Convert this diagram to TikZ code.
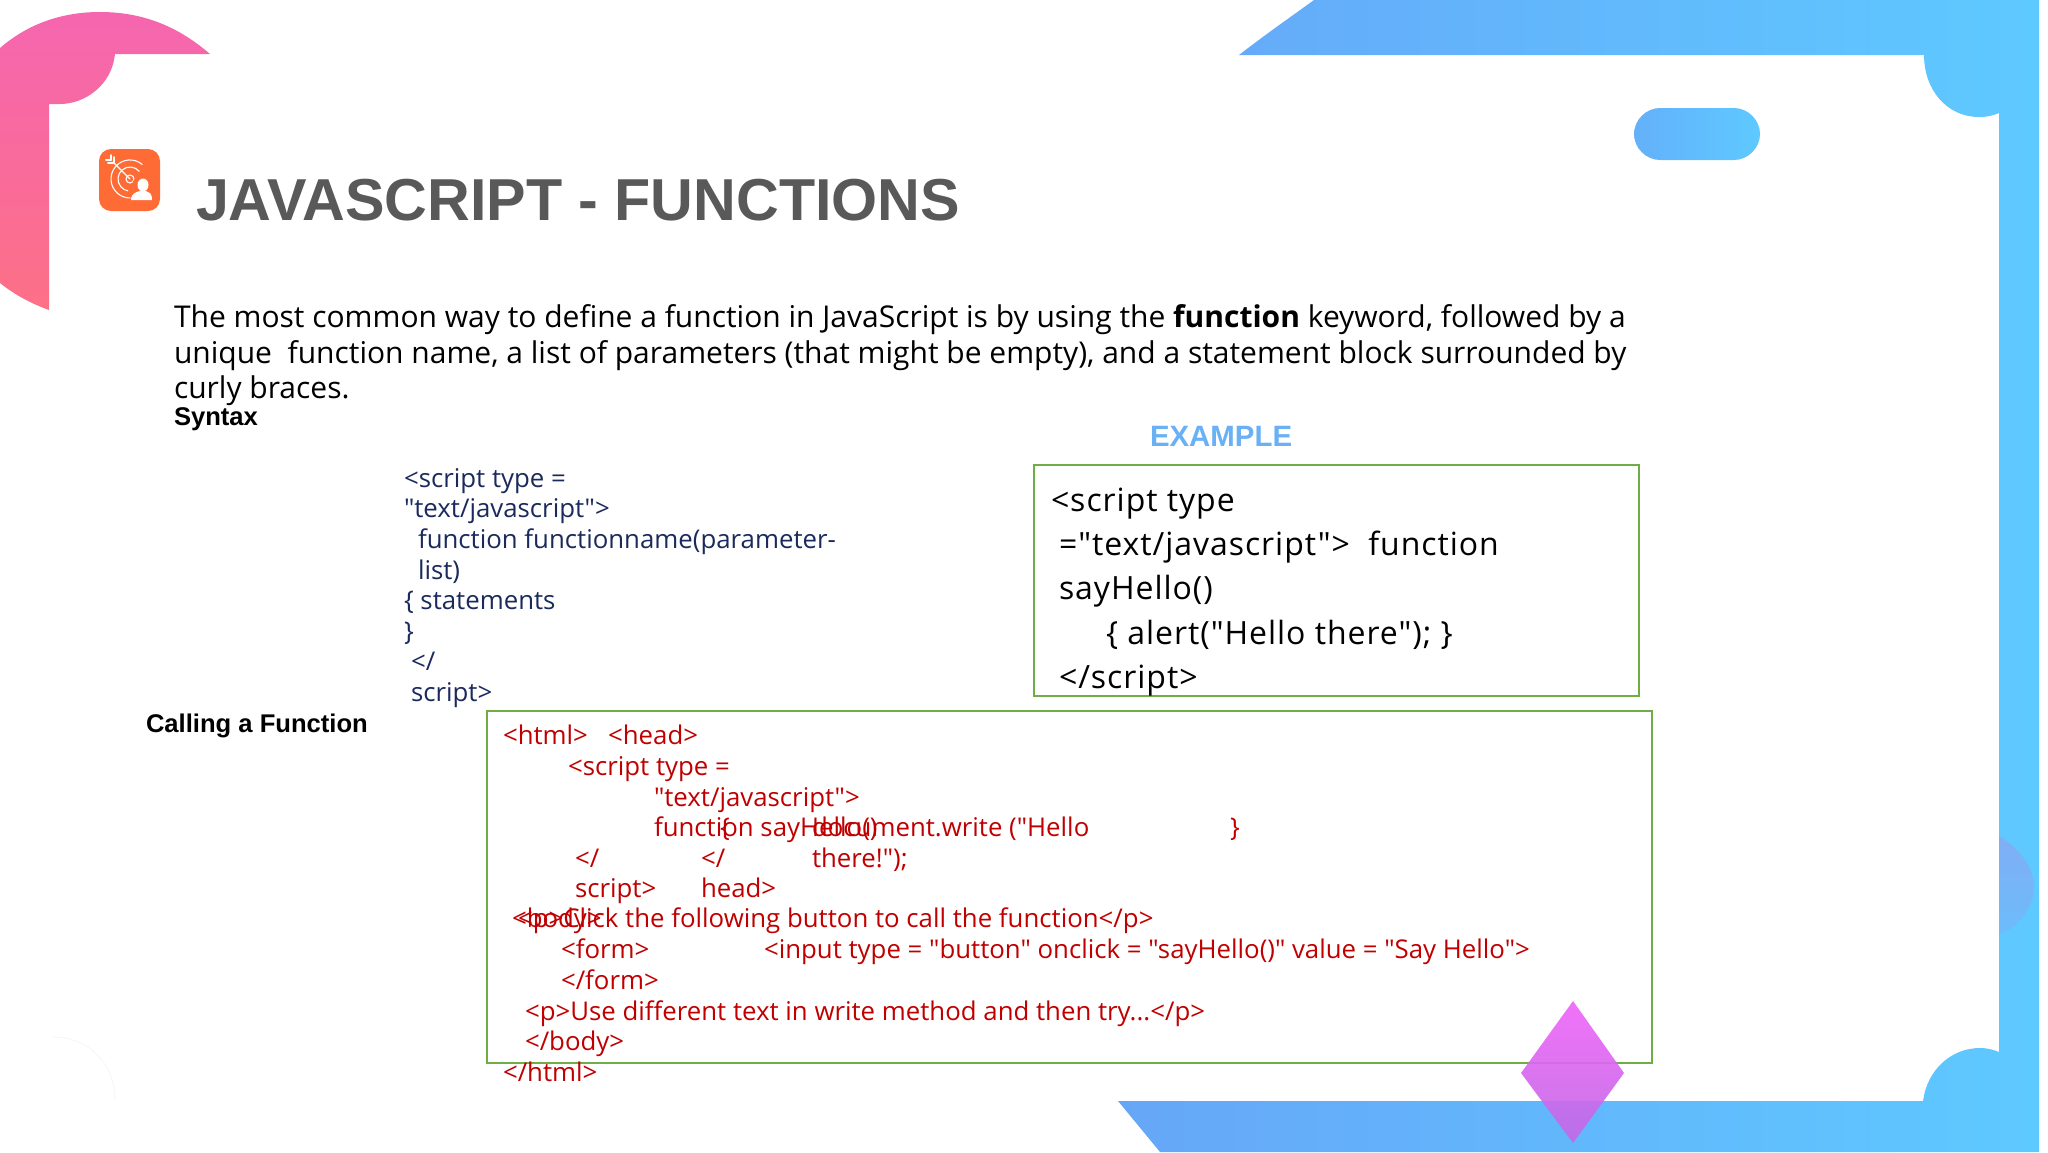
\documentclass[tikz,border=0pt]{standalone}
\usepackage{fontspec}
\newfontfamily\openfont{Open Sans}
\newfontfamily\headfont{Liberation Sans}
\usetikzlibrary{shadings}

\definecolor{headgray}{HTML}{595959}
\definecolor{syntaxnavy}{HTML}{1B2A5C}
\definecolor{codered}{HTML}{C00000}
\definecolor{boxgreen}{HTML}{70AD47}
\definecolor{exampleblue}{HTML}{6AB0F5}
\definecolor{bandleft}{HTML}{66A6F8}
\definecolor{bandright}{HTML}{5EC9FF}
\definecolor{cornertop}{HTML}{F566B0}
\definecolor{cornerbottom}{HTML}{FD7086}
\definecolor{iconorange}{HTML}{FF6B35}
\definecolor{diamondtop}{HTML}{F066F8}
\definecolor{diamondbottom}{HTML}{C06AE6}
\definecolor{bulgetop}{HTML}{80AEF5}
\definecolor{bulgebottom}{HTML}{6CBCFB}

\tikzset{
	txt/.style={anchor=base west, inner sep=0pt, outer sep=0pt},
	bodytxt/.style={txt, font=\openfont\fontsize{15}{18}\selectfont, text=black},
	syntaxtxt/.style={txt, font=\openfont\fontsize{12.9}{15}\selectfont, text=syntaxnavy},
	exampletxt/.style={txt, font=\openfont\fontsize{16}{19}\selectfont\addfontfeatures{LetterSpace=3}, text=black},
	redtxt/.style={txt, font=\openfont\fontsize{12.9}{15}\selectfont, text=codered},
	sidetxt/.style={txt, font=\headfont\bfseries\fontsize{12.8}{15}\selectfont, text=black},
	codebox/.style={draw=boxgreen, line width=0.6pt},
	icondraw/.style={draw=white, line width=0.55pt, line cap=round}
}

\begin{document}
\begin{tikzpicture}[x=0.5pt,y=-0.5pt]
	\useasboundingbox (0,0) rectangle (2048,1152);

	%Corners
	\shade[top color=cornertop, bottom color=cornerbottom]
		(0,48) .. controls (30,22) and (65,12) .. (100,12) .. controls (145,12) and (180,28) .. (210,54)
		-- (115,54) .. controls (112,85) and (85,104) .. (60,104) -- (49,104) -- (49,310)
		.. controls (30,303) and (15,295) .. (0,283) -- cycle;
	\shade[left color=bandleft, right color=bandright]
		(1239,55) .. controls (1266,34) and (1292,16) .. (1314,0) -- (2039,0) -- (2039,1152) -- (1160,1152) -- (1118,1101) -- (1923,1101)
		.. controls (1927,1070) and (1951,1048) .. (1980,1048) .. controls (1988,1048) and (1994,1050) .. (1999,1052)
		-- (1999,113) .. controls (1992,116) and (1986,117) .. (1979,117) .. controls (1947,117) and (1924,90) .. (1924,55) -- cycle;
	\shade[top color=bulgetop, bottom color=bulgebottom] (1999,836) .. controls (2022,850) and (2034,870) .. (2034,886) .. controls (2034,905) and (2022,925) .. (1999,935) -- cycle;
	\shade[left color=bandleft!70!bandright, right color=bandright] (1634,134) .. controls (1634,120) and (1646,108) .. (1660,108) -- (1734,108)
		.. controls (1748,108) and (1760,120) .. (1760,134) .. controls (1760,148) and (1748,160) .. (1734,160) -- (1660,160)
		.. controls (1646,160) and (1634,148) .. (1634,134) -- cycle;
	\draw[black!4] (53,1037) .. controls (90,1037) and (115,1065) .. (115,1100);

	%Icon
	\fill[rounded corners=6pt, fill=iconorange] (99,149) rectangle (160,211);
	\draw[icondraw] (130,179) circle (4);
	\draw[icondraw] (142.2,164.4) arc (-50:-270:19);
	\draw[icondraw] (139.2,171.3) arc (-40:-260:12);
	\draw[icondraw] (130,179) -- (113,162);
	\draw[icondraw,line width=1pt] (114,163) -- (108,163);
	\draw[icondraw,line width=1pt] (114,163) -- (114,157);
	\draw[icondraw,line width=1pt] (111,160) -- (106,160);
	\draw[icondraw,line width=1pt] (111,160) -- (111,155);
	\fill[iconorange] (143,186) circle (11);
	\fill[white] (143,185) ellipse (5.5 and 6.5);
	\fill[white] (131,200) .. controls (131,193) and (137,192) .. (140,191) -- (146,191) .. controls (149,192) and (152,193) .. (152,200) -- cycle;

	%Title
	\node[txt, font=\headfont\bfseries\fontsize{29.6}{36}\selectfont, text=headgray] (title) at (196,220) {JAVASCRIPT - FUNCTIONS};

	%Intro
	\node[bodytxt] (introa) at (174,327) {The most common way to define a function in JavaScript is by using the \textbf{function} keyword, followed by a};
	\node[bodytxt] (introb) at (174,363) {unique\ \ function name, a list of parameters (that might be empty), and a statement block surrounded by};
	\node[bodytxt] (introc) at (174,398) {curly braces.};
	\node[sidetxt] (syntax) at (174,425) {Syntax};
	\node[txt, font=\headfont\bfseries\fontsize{14.7}{18}\selectfont, text=exampleblue] (example) at (1150,446) {EXAMPLE};
	\node[sidetxt] (calling) at (146,732) {Calling a Function};

	%Syntax
	\node[syntaxtxt] (syna) at (404,487) {<script type =};
	\node[syntaxtxt] (synb) at (404,517) {"text/javascript">};
	\node[syntaxtxt] (sync) at (418,548) {function functionname(parameter-};
	\node[syntaxtxt] (synd) at (418,579) {list)};
	\node[syntaxtxt] (syne) at (404,609) {\{ statements};
	\node[syntaxtxt] (synf) at (404,640) {\}};
	\node[syntaxtxt] (syng) at (411,670) {</};
	\node[syntaxtxt] (synh) at (411,701) {script>};

	%Boxes
	\draw[codebox] (1034,465) rectangle (1639,696);
	\draw[codebox] (487,711) rectangle (1652,1063);

	%Example
	\node[exampletxt] (exa) at (1051,511) {<script type};
	\node[exampletxt] (exb) at (1059,555) {="text/javascript">\ \ function};
	\node[exampletxt] (exc) at (1059,599) {sayHello()};
	\node[exampletxt] (exd) at (1106,644) {\{ alert("Hello there"); \}};
	\node[exampletxt] (exe) at (1059,688) {</script>};

	%Calling
	\node[redtxt] (calla) at (503,744) {<html>\ \ \ <head>};
	\node[redtxt] (callb) at (568,775) {<script type =};
	\node[redtxt] (callc) at (654,806) {"text/javascript">};
	\node[redtxt] (calld) at (654,836) {function sayHello()};
	\node[redtxt] (calle) at (720,836) {\{};
	\node[redtxt] (callf) at (812,836) {document.write ("Hello};
	\node[redtxt] (callg) at (1230,836) {\}};
	\node[redtxt] (callh) at (575,867) {</};
	\node[redtxt] (calli) at (701,867) {</};
	\node[redtxt] (callj) at (812,867) {there!");};
	\node[redtxt] (callk) at (575,897) {script>};
	\node[redtxt] (calll) at (701,897) {head>};
	\node[redtxt] (callm) at (512,927) {<body>};
	\node[redtxt] (calln) at (518,927) {<p>Click the following button to call the function</p>};
	\node[redtxt] (callo) at (561,958) {<form>};
	\node[redtxt] (callp) at (764,958) {<input type = "button" onclick = "sayHello()" value = "Say Hello">};
	\node[redtxt] (callq) at (561,989) {</form>};
	\node[redtxt] (callr) at (525,1020) {<p>Use different text in write method and then try...</p>};
	\node[redtxt] (calls) at (525,1050) {</body>};
	\node[redtxt] (callt) at (503,1081) {</html>};

	%Diamond
	\shade[opacity=0.92, top color=diamondtop, bottom color=diamondbottom]
		(1573,1001) -- (1624,1073) -- (1573,1143) -- (1521,1073) -- cycle;
\end{tikzpicture}
\end{document}
